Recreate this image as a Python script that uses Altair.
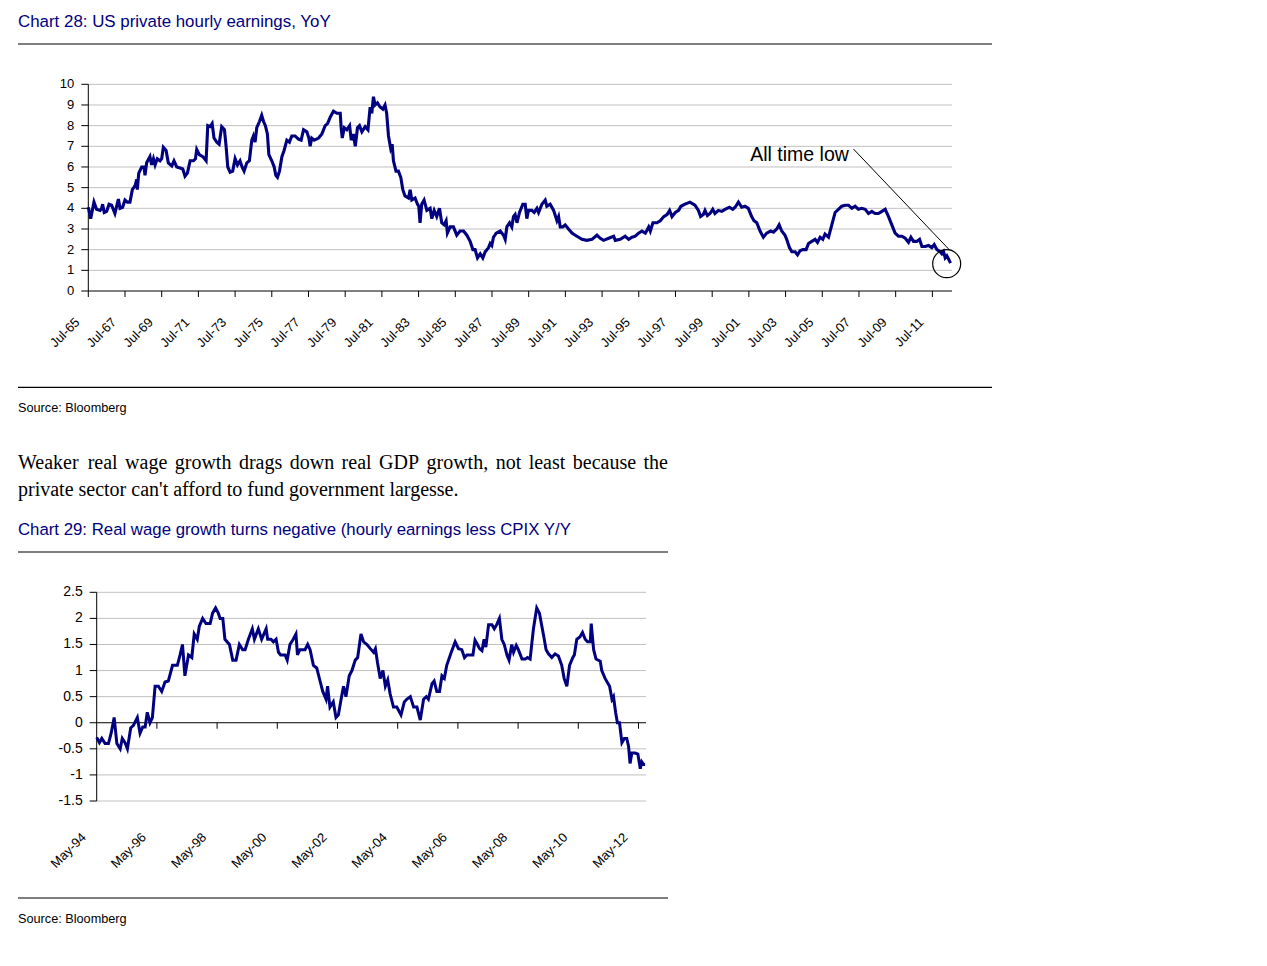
import altair as alt
import pandas as pd

NAVY = "#000080"
SANS = "Liberation Sans, Arial, sans-serif"
NARROW = "Liberation Sans Narrow, Arial Narrow, Liberation Sans, Arial, sans-serif"
SERIF = "Liberation Serif, Times New Roman, serif"

# ---------------- Chart 28 data (decimal years, % YoY) ----------------
c1_year = [
    1965.50, 1965.63, 1965.81, 1965.95, 1966.14, 1966.23, 1966.28, 1966.37, 1966.50, 1966.63,
    1966.77, 1966.95, 1967.14, 1967.23, 1967.37, 1967.50, 1967.63, 1967.77, 1967.90, 1968.05,
    1968.14, 1968.17, 1968.25, 1968.41, 1968.54, 1968.59, 1968.68, 1968.86, 1968.95, 1969.05,
    1969.14, 1969.26, 1969.41, 1969.50, 1969.59, 1969.74, 1969.86, 1970.05, 1970.17, 1970.32,
    1970.50, 1970.65, 1970.77, 1970.90, 1971.05, 1971.23, 1971.34, 1971.41, 1971.55, 1971.74,
    1971.92, 1972.01, 1972.14, 1972.25, 1972.35, 1972.50, 1972.63, 1972.77, 1972.92, 1973.01,
    1973.10, 1973.23, 1973.37, 1973.50, 1973.63, 1973.77, 1973.88, 1973.99, 1974.14, 1974.28,
    1974.41, 1974.50, 1974.59, 1974.68, 1974.83, 1974.95, 1975.05, 1975.15, 1975.26, 1975.34,
    1975.50, 1975.63, 1975.72, 1975.81, 1975.92, 1976.05, 1976.17, 1976.32, 1976.46, 1976.59,
    1976.77, 1976.95, 1977.10, 1977.23, 1977.41, 1977.52, 1977.59, 1977.68, 1977.81, 1978.05,
    1978.23, 1978.41, 1978.54, 1978.68, 1978.86, 1979.05, 1979.23, 1979.28, 1979.34, 1979.45,
    1979.59, 1979.74, 1979.83, 1979.95, 1980.05, 1980.17, 1980.28, 1980.41, 1980.59, 1980.74,
    1980.86, 1980.95, 1981.04, 1981.13, 1981.26, 1981.40, 1981.55, 1981.67, 1981.76, 1981.86,
    1981.98, 1982.06, 1982.13, 1982.27, 1982.40, 1982.53, 1982.64, 1982.76, 1982.95, 1983.04,
    1983.13, 1983.31, 1983.44, 1983.51, 1983.58, 1983.67, 1983.80, 1983.95, 1984.13, 1984.22,
    1984.35, 1984.49, 1984.64, 1984.76, 1984.89, 1985.00, 1985.07, 1985.22, 1985.40, 1985.58,
    1985.76, 1985.95, 1986.13, 1986.31, 1986.46, 1986.58, 1986.71, 1986.86, 1987.00, 1987.13,
    1987.31, 1987.40, 1987.49, 1987.58, 1987.73, 1987.95, 1988.13, 1988.22, 1988.31, 1988.46,
    1988.58, 1988.67, 1988.76, 1988.86, 1989.00, 1989.18, 1989.31, 1989.40, 1989.49, 1989.67,
    1989.80, 1989.95, 1990.04, 1990.22, 1990.40, 1990.49, 1990.67, 1990.86, 1991.04, 1991.13,
    1991.22, 1991.36, 1991.49, 1991.67, 1991.86, 1992.04, 1992.22, 1992.40, 1992.67, 1992.95,
    1993.22, 1993.40, 1993.58, 1993.86, 1994.13, 1994.22, 1994.49, 1994.76, 1994.95, 1995.13,
    1995.31, 1995.49, 1995.67, 1995.86, 1996.04, 1996.13, 1996.27, 1996.49, 1996.67, 1996.86,
    1997.04, 1997.18, 1997.31, 1997.49, 1997.67, 1997.80, 1998.02, 1998.29, 1998.56, 1998.75,
    1998.87, 1999.02, 1999.11, 1999.24, 1999.38, 1999.53, 1999.65, 1999.84, 2000.02, 2000.20,
    2000.44, 2000.62, 2000.75, 2000.93, 2001.11, 2001.29, 2001.47, 2001.65, 2001.78, 2001.93,
    2002.11, 2002.29, 2002.47, 2002.69, 2002.84, 2003.02, 2003.15, 2003.29, 2003.47, 2003.56,
    2003.71, 2003.84, 2004.02, 2004.15, 2004.29, 2004.44, 2004.62, 2004.75, 2004.93, 2005.11,
    2005.24, 2005.38, 2005.53, 2005.65, 2005.84, 2006.02, 2006.20, 2006.38, 2006.56, 2006.75,
    2006.93, 2007.11, 2007.29, 2007.47, 2007.65, 2007.84, 2008.02, 2008.20, 2008.38, 2008.56,
    2008.75, 2008.93, 2009.11, 2009.29, 2009.47, 2009.65, 2009.84, 2010.02, 2010.20, 2010.33,
    2010.47, 2010.65, 2010.80, 2010.93, 2011.11, 2011.29, 2011.47, 2011.60, 2011.75, 2011.93,
    2012.02, 2012.11, 2012.20, 2012.29, 2012.38, 2012.49,
]
c1_val = [
    4.05, 3.5, 4.3, 3.95, 3.9, 4.0, 4.2, 3.8, 3.85, 4.2,
    4.15, 3.75, 4.45, 4.0, 4.05, 4.4, 4.3, 4.3, 4.9, 5.1,
    5.4, 4.9, 5.7, 6.0, 6.0, 5.6, 6.2, 6.5, 6.1, 6.4,
    6.1, 6.4, 6.3, 6.4, 6.95, 6.8, 6.2, 6.05, 6.3, 6.0,
    5.95, 5.9, 5.55, 5.7, 6.3, 6.3, 6.4, 6.85, 6.6, 6.5,
    6.3, 8.0, 7.95, 8.1, 7.4, 7.2, 7.1, 7.95, 7.8, 7.0,
    6.0, 5.75, 5.8, 6.4, 6.1, 6.3, 6.0, 5.8, 6.2, 6.3,
    7.3, 7.5, 7.2, 7.9, 8.2, 8.5, 8.2, 8.0, 7.6, 6.6,
    6.3, 6.0, 5.6, 5.5, 5.8, 6.5, 6.8, 7.3, 7.2, 7.5,
    7.5, 7.35, 7.3, 7.8, 7.7, 7.4, 7.0, 7.4, 7.3, 7.4,
    7.6, 8.0, 8.1, 8.4, 8.7, 8.6, 8.6, 7.9, 7.4, 7.9,
    7.8, 8.0, 7.3, 7.6, 7.0, 7.9, 8.0, 7.7, 7.95, 7.8,
    8.9, 8.6, 9.4, 9.0, 9.1, 8.9, 8.8, 9.0, 8.6, 7.5,
    6.9, 7.1, 6.3, 5.8, 5.8, 5.5, 4.9, 4.6, 4.5, 4.9,
    4.4, 4.5, 4.2, 4.1, 3.3, 4.2, 4.4, 3.9, 4.0, 3.5,
    3.9, 3.6, 4.0, 3.3, 3.2, 3.4, 2.8, 3.1, 3.1, 2.7,
    2.9, 2.9, 2.7, 2.4, 2.0, 2.0, 1.6, 1.8, 1.6, 1.9,
    2.1, 2.3, 2.2, 2.6, 2.8, 2.9, 2.7, 2.5, 3.1, 3.3,
    3.1, 3.6, 3.7, 3.3, 3.8, 4.2, 4.2, 3.5, 3.9, 3.9,
    3.8, 4.0, 3.8, 4.2, 4.4, 4.1, 4.2, 3.9, 3.4, 3.6,
    3.1, 3.1, 3.2, 3.0, 2.8, 2.7, 2.6, 2.5, 2.45, 2.5,
    2.7, 2.55, 2.45, 2.55, 2.65, 2.45, 2.5, 2.65, 2.5, 2.6,
    2.65, 2.8, 2.9, 2.8, 3.1, 2.9, 3.3, 3.3, 3.4, 3.6,
    3.7, 3.9, 3.6, 3.8, 3.9, 4.1, 4.2, 4.3, 4.15, 3.9,
    3.6, 3.7, 3.9, 3.65, 3.75, 3.95, 3.75, 3.9, 3.85, 3.95,
    4.05, 3.95, 4.05, 4.3, 4.05, 4.1, 4.0, 3.6, 3.4, 3.3,
    2.9, 2.6, 2.8, 2.9, 2.85, 3.0, 3.2, 2.9, 2.7, 2.5,
    2.1, 1.9, 1.9, 1.75, 1.95, 2.0, 2.0, 2.3, 2.4, 2.5,
    2.35, 2.6, 2.5, 2.75, 2.6, 3.2, 3.8, 3.95, 4.1, 4.15,
    4.15, 4.0, 4.1, 3.95, 4.0, 3.95, 3.75, 3.85, 3.75, 3.75,
    3.85, 3.95, 3.6, 3.2, 2.8, 2.65, 2.65, 2.55, 2.35, 2.6,
    2.4, 2.4, 2.5, 2.15, 2.15, 2.2, 2.1, 2.25, 2.0, 1.9,
    1.8, 1.9, 1.6, 1.7, 1.55, 1.35,
]
c1_xdomain = [1965.5, 2012.57]
c1_ydomain = [0, 10]
c1_yticks = [0, 1, 2, 3, 4, 5, 6, 7, 8, 9, 10]
c1_grid = [1, 2, 3, 4, 5, 6, 7, 8, 9, 10]
c1_xticks = [1965.5, 1967.5, 1969.5, 1971.5, 1973.5, 1975.5, 1977.5, 1979.5, 1981.5, 1983.5,
             1985.5, 1987.5, 1989.5, 1991.5, 1993.5, 1995.5, 1997.5, 1999.5, 2001.5, 2003.5,
             2005.5, 2007.5, 2009.5, 2011.5]
c1_xlabels = ["Jul-65", "Jul-67", "Jul-69", "Jul-71", "Jul-73", "Jul-75", "Jul-77", "Jul-79",
              "Jul-81", "Jul-83", "Jul-85", "Jul-87", "Jul-89", "Jul-91", "Jul-93", "Jul-95",
              "Jul-97", "Jul-99", "Jul-01", "Jul-03", "Jul-05", "Jul-07", "Jul-09", "Jul-11"]
c1_note_text = ["All time low"]
c1_note_year = [2006.95]
c1_note_val = [6.3]
c1_arrow_from = [2007.2, 6.87]
c1_arrow_to = [2012.44, 1.98]
c1_circle = [2012.28, 1.32]

# ---------------- Chart 29 data ----------------
c2_year = [
    1994.33, 1994.42, 1994.50, 1994.61, 1994.72, 1994.81, 1994.91, 1995.00, 1995.11, 1995.18,
    1995.27, 1995.35, 1995.46, 1995.55, 1995.68, 1995.77, 1995.86, 1995.94, 1996.01, 1996.10,
    1996.18, 1996.27, 1996.38, 1996.49, 1996.60, 1996.71, 1996.85, 1997.01, 1997.10, 1997.18,
    1997.26, 1997.38, 1997.49, 1997.57, 1997.67, 1997.74, 1997.85, 1997.96, 1998.10, 1998.18,
    1998.28, 1998.37, 1998.43, 1998.52, 1998.59, 1998.74, 1998.85, 1998.96, 1999.07, 1999.18,
    1999.26, 1999.37, 1999.50, 1999.57, 1999.70, 1999.81, 1999.96, 2000.01, 2000.12, 2000.20,
    2000.29, 2000.37, 2000.44, 2000.59, 2000.66, 2000.75, 2000.86, 2000.95, 2001.00, 2001.08,
    2001.25, 2001.34, 2001.42, 2001.53, 2001.64, 2001.75, 2001.84, 2001.95, 2002.00, 2002.08,
    2002.19, 2002.28, 2002.36, 2002.45, 2002.53, 2002.61, 2002.72, 2002.81, 2002.92, 2003.00,
    2003.11, 2003.20, 2003.31, 2003.42, 2003.53, 2003.59, 2003.66, 2003.75, 2003.84, 2003.92,
    2004.00, 2004.08, 2004.19, 2004.30, 2004.44, 2004.55, 2004.63, 2004.75, 2004.86, 2004.97,
    2005.08, 2005.19, 2005.28, 2005.35, 2005.47, 2005.54, 2005.63, 2005.72, 2005.80, 2005.88,
    2005.96, 2006.11, 2006.24, 2006.35, 2006.46, 2006.55, 2006.63, 2006.74, 2006.83, 2006.90,
    2006.98, 2007.05, 2007.13, 2007.20, 2007.26, 2007.35, 2007.46, 2007.54, 2007.62, 2007.71,
    2007.79, 2007.87, 2007.96, 2008.03, 2008.12, 2008.18, 2008.27, 2008.34, 2008.46, 2008.57,
    2008.64, 2008.73, 2008.84, 2008.95, 2009.04, 2009.12, 2009.20, 2009.26, 2009.34, 2009.45,
    2009.56, 2009.67, 2009.78, 2009.86, 2009.95, 2010.04, 2010.15, 2010.20, 2010.28, 2010.39,
    2010.47, 2010.56, 2010.64, 2010.73, 2010.76, 2010.84, 2010.92, 2011.06, 2011.11, 2011.22,
    2011.37, 2011.45, 2011.50, 2011.57, 2011.63, 2011.70, 2011.78, 2011.86, 2011.94, 2012.00,
    2012.05, 2012.11, 2012.22, 2012.31, 2012.39, 2012.44, 2012.50, 2012.55,
]
c2_val = [
    -0.28, -0.38, -0.3, -0.4, -0.4, -0.2, 0.1, -0.4, -0.5, -0.3,
    -0.38, -0.5, -0.1, -0.05, 0.1, -0.2, -0.08, -0.08, 0.2, 0.0,
    0.1, 0.7, 0.7, 0.6, 0.78, 0.8, 1.1, 1.1, 1.3, 1.5,
    0.9, 1.3, 1.25, 1.7, 1.6, 1.85, 2.0, 1.9, 1.9, 2.1,
    2.2, 2.1, 2.0, 2.0, 1.6, 1.5, 1.2, 1.2, 1.5, 1.4,
    1.4, 1.6, 1.8, 1.6, 1.8, 1.6, 1.8, 1.6, 1.6, 1.55,
    1.6, 1.35, 1.3, 1.3, 1.2, 1.5, 1.6, 1.7, 1.3, 1.4,
    1.4, 1.5, 1.4, 1.1, 1.05, 0.8, 0.6, 0.45, 0.7, 0.3,
    0.4, 0.1, 0.15, 0.45, 0.7, 0.5, 0.9, 1.0, 1.2, 1.25,
    1.7, 1.55, 1.5, 1.42, 1.35, 1.42, 1.15, 0.85, 1.0, 0.7,
    0.82, 0.55, 0.3, 0.3, 0.15, 0.4, 0.45, 0.5, 0.3, 0.3,
    0.05, 0.45, 0.5, 0.45, 0.75, 0.8, 0.6, 0.6, 0.9, 0.85,
    1.1, 1.35, 1.55, 1.42, 1.4, 1.25, 1.3, 1.3, 1.3, 1.58,
    1.5, 1.42, 1.38, 1.6, 1.45, 1.88, 1.88, 1.8, 1.88, 2.0,
    1.6, 1.5, 1.3, 1.2, 1.5, 1.35, 1.48, 1.4, 1.22, 1.22,
    1.25, 1.22, 1.8, 2.2, 2.1, 1.85, 1.6, 1.4, 1.32, 1.25,
    1.32, 1.28, 1.1, 0.85, 0.7, 1.1, 1.25, 1.3, 1.6, 1.65,
    1.73, 1.6, 1.55, 1.55, 1.9, 1.4, 1.22, 1.18, 1.0, 0.85,
    0.7, 0.45, 0.5, 0.2, 0.0, 0.0, -0.38, -0.3, -0.3, -0.45,
    -0.78, -0.58, -0.58, -0.6, -0.88, -0.75, -0.8, -0.8,
]
c2_xdomain = [1994.33, 2012.58]
c2_ydomain = [-1.5, 2.5]
c2_yticks = [-1.5, -1.0, -0.5, 0.0, 0.5, 1.0, 1.5, 2.0, 2.5]
c2_ylabels = ["-1.5", "-1", "-0.5", "0", "0.5", "1", "1.5", "2", "2.5"]
c2_grid = [-1.5, -1.0, -0.5, 0.5, 1.0, 1.5, 2.0, 2.5]
c2_xticks = [1996.33, 1998.33, 2000.33, 2002.33, 2004.33, 2006.33, 2008.33, 2010.33, 2012.33]
c2_label_year = [1994.33, 1996.33, 1998.33, 2000.33, 2002.33, 2004.33, 2006.33, 2008.33,
                 2010.33, 2012.33]
c2_xlabels = ["May-94", "May-96", "May-98", "May-00", "May-02", "May-04", "May-06", "May-08",
              "May-10", "May-12"]

# ---------------- page texts ----------------
title1 = "Chart 28: US private hourly earnings, YoY"
title2 = "Chart 29: Real wage growth turns negative (hourly earnings less CPIX Y/Y"
source_text = "Source: Bloomberg"
para1 = "Weaker real wage growth drags down real GDP growth, not least because the"
para2 = "private sector can't afford to fund government largesse."

# ---------------- layout (pixels inside the page) ----------------
W, H = 1200, 945
X1 = alt.Scale(domain=c1_xdomain, range=[80.3, 944.0], nice=False, zero=False)
Y1 = alt.Scale(domain=c1_ydomain, range=[283.0, 76.3], nice=False, zero=False)
X2 = alt.Scale(domain=c2_xdomain, range=[88.7, 638.0], nice=False, zero=False)
Y2 = alt.Scale(domain=c2_ydomain, range=[793.0, 584.3], nice=False, zero=False)


def panel(years, vals, xs, ys, xdom, ydom, grid, yticks, ylabels, xticks, lab_years, labels,
          lab_base, lab_xoff, lab_yoff, font_size, lab_size, lw):
    gx = lambda f: alt.X(f, scale=xs, axis=None)
    gy = lambda f: alt.Y(f, scale=ys, axis=None)
    layers = []
    g = pd.DataFrame({"v": grid, "t0": xdom[0], "t1": xdom[1]})
    layers.append(alt.Chart(g).mark_rule(color="#c0c0c0", strokeWidth=1).encode(
        x=gx("t0:Q"), x2="t1:Q", y=gy("v:Q")))
    ya = pd.DataFrame({"t": [xdom[0]], "v0": [ydom[0]], "v1": [ydom[1]]})
    layers.append(alt.Chart(ya).mark_rule(color="black", strokeWidth=1).encode(
        x=gx("t:Q"), y=gy("v0:Q"), y2="v1:Q"))
    yt = pd.DataFrame({"t": xdom[0], "v": yticks, "lab": ylabels})
    layers.append(alt.Chart(yt).mark_rule(color="black", strokeWidth=1, x2Offset=-7).encode(
        x=gx("t:Q"), x2="t:Q", y=gy("v:Q")))
    layers.append(alt.Chart(yt).mark_text(align="right", baseline="middle", xOffset=-14,
                                          font=SANS, fontSize=font_size, color="black").encode(
        x=gx("t:Q"), y=gy("v:Q"), text="lab:N"))
    xa = pd.DataFrame({"t0": [xdom[0]], "t1": [xdom[1]], "v": [0]})
    layers.append(alt.Chart(xa).mark_rule(color="black", strokeWidth=1).encode(
        x=gx("t0:Q"), x2="t1:Q", y=gy("v:Q")))
    xt = pd.DataFrame({"t": xticks, "v": 0})
    layers.append(alt.Chart(xt).mark_rule(color="black", strokeWidth=1, y2Offset=6).encode(
        x=gx("t:Q"), y=gy("v:Q"), y2="v:Q"))
    xl = pd.DataFrame({"t": lab_years, "v": lab_base, "lab": labels})
    layers.append(alt.Chart(xl).mark_text(angle=315, align="right", baseline="top",
                                          xOffset=lab_xoff, yOffset=lab_yoff, font=SANS,
                                          fontSize=lab_size, color="black").encode(
        x=gx("t:Q"), y=gy("v:Q"), text="lab:N"))
    ln = pd.DataFrame({"t": years, "v": vals})
    layers.append(alt.Chart(ln).mark_line(color=NAVY, strokeWidth=lw).encode(
        x=gx("t:Q"), y=gy("v:Q")))
    return layers


layers1 = panel(c1_year, c1_val, X1, Y1, c1_xdomain, c1_ydomain, c1_grid, c1_yticks,
                [str(v) for v in c1_yticks], c1_xticks, c1_xticks, c1_xlabels, 0,
                -15, 25, 13, 13, 3.1)
# annotation
nt = pd.DataFrame({"t": c1_note_year, "v": c1_note_val, "lab": c1_note_text})
layers1.append(alt.Chart(nt).mark_text(align="right", baseline="alphabetic", font=NARROW,
                                       fontSize=19.5, color="black").encode(
    x=alt.X("t:Q", scale=X1, axis=None), y=alt.Y("v:Q", scale=Y1, axis=None), text="lab:N"))
ar = pd.DataFrame({"t0": [c1_arrow_from[0]], "v0": [c1_arrow_from[1]],
                   "t1": [c1_arrow_to[0]], "v1": [c1_arrow_to[1]]})
layers1.append(alt.Chart(ar).mark_rule(color="black", strokeWidth=1).encode(
    x=alt.X("t0:Q", scale=X1, axis=None), y=alt.Y("v0:Q", scale=Y1, axis=None),
    x2="t1:Q", y2="v1:Q"))
ci = pd.DataFrame({"t": [c1_circle[0]], "v": [c1_circle[1]]})
layers1.append(alt.Chart(ci).mark_point(shape="circle", size=784, filled=False, color="black",
                                        strokeWidth=1.2, opacity=1).encode(
    x=alt.X("t:Q", scale=X1, axis=None), y=alt.Y("v:Q", scale=Y1, axis=None)))

layers2 = panel(c2_year, c2_val, X2, Y2, c2_xdomain, c2_ydomain, c2_grid, c2_yticks,
                c2_ylabels, c2_xticks, c2_label_year, c2_xlabels, c2_ydomain[0],
                -17, 30, 14, 13, 3.0)

# ---------------- decorations (page furniture) ----------------
one = pd.DataFrame({"a": [0]})


def txt(s, x, y, font, size, color="black"):
    return alt.Chart(one).mark_text(text=s, align="left", baseline="alphabetic", font=font,
                                    fontSize=size, color=color).encode(
        x=alt.value(x), y=alt.value(y))


def hrule(x0, x1, y):
    return alt.Chart(one).mark_rule(color="black", strokeWidth=1.2).encode(
        x=alt.value(x0), x2=alt.value(x1), y=alt.value(y))


# justified first paragraph line (Times metrics)
TIMES = {"W": 944, "e": 444, "a": 444, "k": 500, "r": 333, "l": 278, "w": 722, "g": 500,
         "o": 500, "t": 278, "h": 500, "d": 500, "s": 389, "n": 500, "G": 722, "D": 722,
         "P": 556, ",": 250, "i": 278, "b": 500, "c": 444, "u": 500}
PSIZE = 20
words = para1.split(" ")
wwid = [sum(TIMES.get(ch, 500) for ch in w) * PSIZE / 1000 for w in words]
gap = (650 - sum(wwid)) / (len(words) - 1)
xpos, cur = [], 10.0
for ww in wwid:
    xpos.append(cur)
    cur += ww + gap
pw = pd.DataFrame({"w": words, "px": xpos})
para_line1 = alt.Chart(pw).mark_text(align="left", baseline="alphabetic", font=SERIF,
                                     fontSize=PSIZE, color="black").encode(
    x=alt.X("px:Q", scale=None), y=alt.value(461), text="w:N")

deco = [
    txt(title1, 10, 18.7, NARROW, 16.9, NAVY),
    hrule(10, 984, 36),
    hrule(10, 984, 379.3),
    txt(source_text, 10, 404.3, NARROW, 12.7),
    para_line1,
    txt(para2, 10, 488, SERIF, PSIZE),
    txt(title2, 10, 527, NARROW, 16.8, NAVY),
    hrule(10, 660, 544),
    hrule(10, 660, 890),
    txt(source_text, 10, 915.3, NARROW, 12.7),
]

chart = alt.layer(alt.layer(*layers1), alt.layer(*layers2), *deco).resolve_scale(
    x="independent", y="independent"
).properties(
    width=W, height=H, padding=0, autosize=alt.AutoSizeParams(type="none")
).configure_view(strokeWidth=0)

chart.save("out.html", embed_options={"renderer": "svg", "actions": False})
